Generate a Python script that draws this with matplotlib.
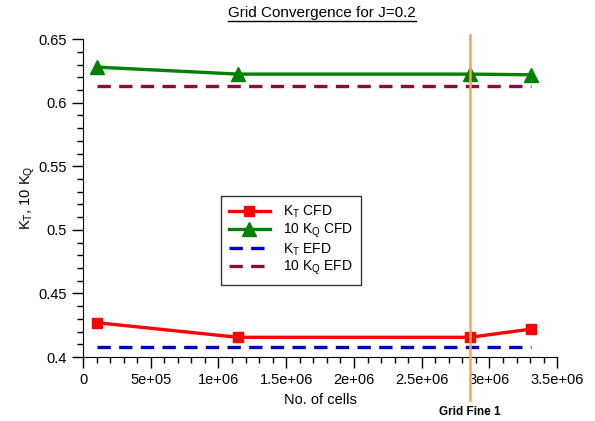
import matplotlib
matplotlib.use("Agg")
import matplotlib.pyplot as plt
from matplotlib.ticker import MultipleLocator, FuncFormatter
from matplotlib.lines import Line2D

plt.rcParams['font.family'] = ['Liberation Sans', 'DejaVu Sans']
plt.rcParams['mathtext.default'] = 'regular'

# data
cells = [1.03e5, 1.144e6, 2.856e6, 3.31e6]
kt_cfd = [0.427, 0.4155, 0.4155, 0.422]
kq10_cfd = [0.628, 0.6225, 0.6225, 0.622]
kt_efd = 0.408
kq10_efd = 0.613
efd_range = [1.03e5, 3.31e6]
grid_fine1 = 2.856e6


def sci_fmt(v, pos):
    """Tick labels like 5e+05, 1.5e+06"""
    if v == 0:
        return "0"
    s = "%.1e" % v
    mant, exp = s.split("e")
    mant = mant.rstrip("0").rstrip(".")
    return mant + "e" + exp[0] + exp[1:].zfill(2)


fig = plt.figure(figsize=(5.95, 4.21), dpi=100)
ax = fig.add_axes([0.1395, 0.152, 0.797, 0.755])

ax.plot(cells, kt_cfd, color="#ff0000", lw=2.4, marker="s", ms=7.5, label="K$_T$ CFD")
ax.plot(cells, kq10_cfd, color="#008000", lw=2.4, marker="^", ms=9.5, label="10 K$_Q$ CFD")
ax.plot(efd_range, [kt_efd] * 2, color="#0000cc", lw=2.4, ls=(0, (4, 2.5)), label="K$_T$ EFD")
ax.plot(efd_range, [kq10_efd] * 2, color="#8b0a40", lw=2.4, ls=(0, (4, 2.5)), label="10 K$_Q$ EFD")

# vertical marker for chosen grid
ax.axvline(grid_fine1, ymin=-0.135, ymax=1.012, color="#f4a460", lw=1.8, clip_on=False, zorder=5)
ax.text(grid_fine1, 0.4 - 0.0435, "Grid Fine 1", ha="center", va="center",
        fontsize=8.5, fontweight="bold")

ax.set_xlim(0, 3.5e6)
ax.set_ylim(0.4, 0.65)
ax.xaxis.set_major_locator(MultipleLocator(5e5))
ax.xaxis.set_minor_locator(MultipleLocator(1e5))
ax.yaxis.set_major_locator(MultipleLocator(0.05))
ax.yaxis.set_minor_locator(MultipleLocator(0.01))
ax.xaxis.set_major_formatter(FuncFormatter(sci_fmt))
ax.yaxis.set_major_formatter(FuncFormatter(lambda v, p: ("%.2f" % v).rstrip("0").rstrip(".")))
ax.tick_params(which="major", direction="out", length=8, width=1, labelsize=10.5)
ax.tick_params(which="minor", direction="out", length=4, width=1)
ax.spines["top"].set_visible(False)
ax.spines["right"].set_visible(False)

ax.set_xlabel("No. of cells", fontsize=10.5, labelpad=4)
ax.set_ylabel("K$_T$, 10 K$_Q$", fontsize=10.5, labelpad=1)

leg = ax.legend(loc="upper left", bbox_to_anchor=(0.291, 0.506), fontsize=10,
                frameon=True, fancybox=False, edgecolor="black", handlelength=3.0,
                borderpad=0.55, labelspacing=0.1, borderaxespad=0, handletextpad=0.9)
leg.get_frame().set_linewidth(1)

title = fig.text(0.541, 0.968, "Grid Convergence for J=0.2", ha="center", va="center", fontsize=11)
fig.canvas.draw()
bb = title.get_window_extent().transformed(fig.transFigure.inverted())
fig.add_artist(Line2D([bb.x0, bb.x1], [bb.y0 - 0.002, bb.y0 - 0.002], color="black", lw=1,
                      transform=fig.transFigure))

plt.savefig("out.png", dpi=100)
